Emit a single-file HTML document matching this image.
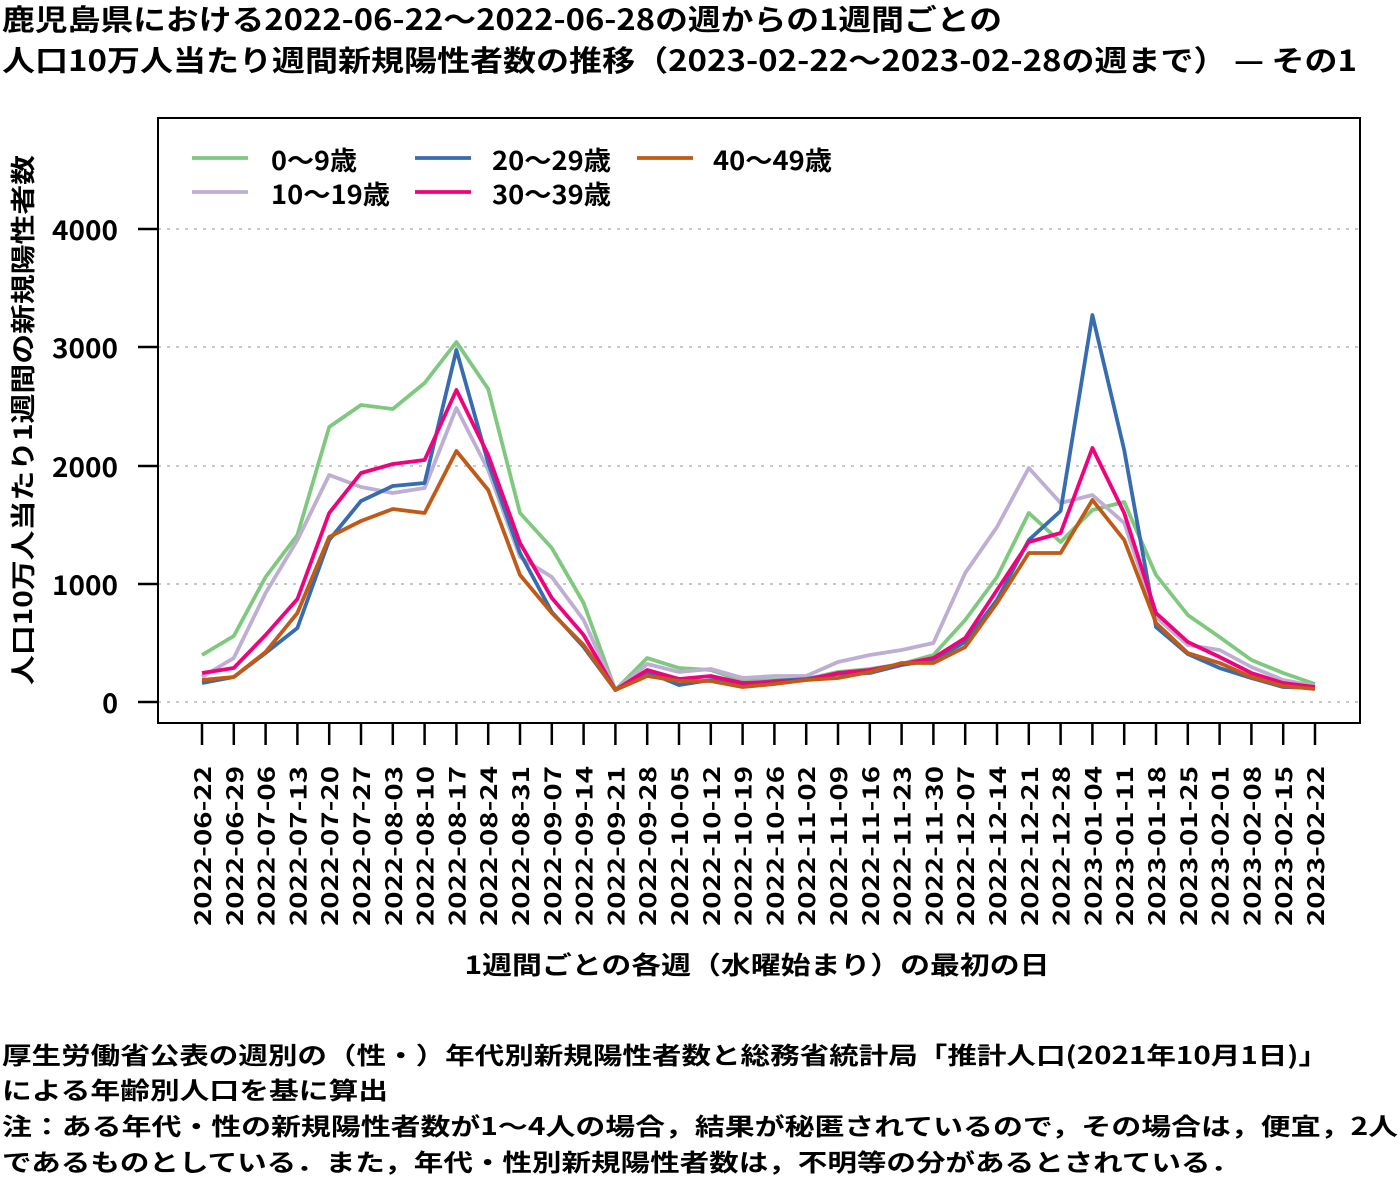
<!DOCTYPE html>
<html><head><meta charset="utf-8"><style>
html,body{margin:0;padding:0;background:#fff;}
svg{display:block;}
text{font-family:"Noto Sans CJK JP","Liberation Sans",sans-serif;font-weight:bold;fill:#000;}
</style></head><body>
<svg width="1400" height="1200" viewBox="0 0 1400 1200" xmlns="http://www.w3.org/2000/svg">
<text x="2" y="30" font-size="29" textLength="1000" lengthAdjust="spacingAndGlyphs">鹿児島県における2022-06-22～2022-06-28の週からの1週間ごとの</text>
<text x="2" y="71" font-size="29" textLength="1355" lengthAdjust="spacingAndGlyphs">人口10万人当たり週間新規陽性者数の推移（2023-02-22～2023-02-28の週まで） — その1</text>

<g stroke="#c8c8c8" stroke-width="2" stroke-dasharray="3,6">
<line x1="158" y1="702" x2="1360" y2="702"/>
<line x1="158" y1="584" x2="1360" y2="584"/>
<line x1="158" y1="466" x2="1360" y2="466"/>
<line x1="158" y1="347" x2="1360" y2="347"/>
<line x1="158" y1="229" x2="1360" y2="229"/>
</g>
<rect x="158" y="118" width="1202" height="605" fill="none" stroke="#000" stroke-width="2"/>
<g stroke="#000" stroke-width="2.5">
<line x1="138" y1="702" x2="158" y2="702"/>
<line x1="138" y1="584" x2="158" y2="584"/>
<line x1="138" y1="466" x2="158" y2="466"/>
<line x1="138" y1="347" x2="158" y2="347"/>
<line x1="138" y1="229" x2="158" y2="229"/>
</g>
<g font-size="27" text-anchor="end">
<text x="118" y="713">0</text>
<text x="118" y="595" textLength="66" lengthAdjust="spacingAndGlyphs">1000</text>
<text x="118" y="477" textLength="66" lengthAdjust="spacingAndGlyphs">2000</text>
<text x="118" y="358" textLength="66" lengthAdjust="spacingAndGlyphs">3000</text>
<text x="118" y="240" textLength="66" lengthAdjust="spacingAndGlyphs">4000</text>
</g>
<text transform="translate(32,420) rotate(-90)" font-size="25" text-anchor="middle" textLength="530" lengthAdjust="spacingAndGlyphs">人口10万人当たり1週間の新規陽性者数</text>

<g id="xt" stroke="#000" stroke-width="2.5"></g>
<g id="xl" font-size="23"></g>
<text x="757" y="974" font-size="25" text-anchor="middle" textLength="585" lengthAdjust="spacingAndGlyphs">1週間ごとの各週（水曜始まり）の最初の日</text>

<g fill="none" stroke-width="3.8" stroke-linejoin="round" id="series"></g>

<g stroke-width="3.8">
<line x1="192" y1="158" x2="248" y2="158" stroke="#7fc97f"/>
<line x1="192" y1="192" x2="248" y2="192" stroke="#beaed4"/>
<line x1="415" y1="158" x2="471" y2="158" stroke="#386cb0"/>
<line x1="415" y1="192" x2="471" y2="192" stroke="#f0027f"/>
<line x1="637" y1="158" x2="693" y2="158" stroke="#bf5b17"/>
</g>
<g font-size="26">
<text x="271" y="170" textLength="86" lengthAdjust="spacingAndGlyphs">0～9歳</text>
<text x="271" y="204" textLength="119" lengthAdjust="spacingAndGlyphs">10～19歳</text>
<text x="492" y="170" textLength="119" lengthAdjust="spacingAndGlyphs">20～29歳</text>
<text x="492" y="204" textLength="119" lengthAdjust="spacingAndGlyphs">30～39歳</text>
<text x="713" y="170" textLength="119" lengthAdjust="spacingAndGlyphs">40～49歳</text>
</g>

<g font-size="24">
<text x="2" y="1064" textLength="1326" lengthAdjust="spacingAndGlyphs">厚生労働省公表の週別の（性・）年代別新規陽性者数と総務省統計局「推計人口(2021年10月1日)」</text>
<text x="2" y="1099" textLength="386" lengthAdjust="spacingAndGlyphs">による年齢別人口を基に算出</text>
<text x="2" y="1135" textLength="1396" lengthAdjust="spacingAndGlyphs">注：ある年代・性の新規陽性者数が1～4人の場合，結果が秘匿されているので，その場合は，便宜，2人</text>
<text x="2" y="1171" textLength="1238" lengthAdjust="spacingAndGlyphs">であるものとしている．また，年代・性別新規陽性者数は，不明等の分があるとされている．</text>
</g>
</svg>
<script>
var ns="http://www.w3.org/2000/svg";
var dates=["2022-06-22","2022-06-29","2022-07-06","2022-07-13","2022-07-20","2022-07-27","2022-08-03","2022-08-10","2022-08-17","2022-08-24","2022-08-31","2022-09-07","2022-09-14","2022-09-21","2022-09-28","2022-10-05","2022-10-12","2022-10-19","2022-10-26","2022-11-02","2022-11-09","2022-11-16","2022-11-23","2022-11-30","2022-12-07","2022-12-14","2022-12-21","2022-12-28","2023-01-04","2023-01-11","2023-01-18","2023-01-25","2023-02-01","2023-02-08","2023-02-15","2023-02-22"];
function X(i){return 202+i*(1113/35);}
var xt=document.getElementById("xt"),xl=document.getElementById("xl");
dates.forEach(function(d,i){
 var l=document.createElementNS(ns,"line");l.setAttribute("x1",X(i));l.setAttribute("x2",X(i));l.setAttribute("y1",723);l.setAttribute("y2",745);xt.appendChild(l);
 var t=document.createElementNS(ns,"text");t.setAttribute("transform","translate("+(X(i)+9)+",926) rotate(-90)");t.setAttribute("textLength","160");t.setAttribute("lengthAdjust","spacingAndGlyphs");t.textContent=d;xl.appendChild(t);
});
var S=[
["#7fc97f",[655,636,577,535,427,405,409,383,342,389,513,548,603,690,658,668,670,681,680,679,672,669,664,655,620,577,513,542,510,502,575,615,637,660,673,684]],
["#beaed4",[677,658,593,540,475,487,493,488,408,470,557,577,620,690,664,672,669,678,676,676,662,655,650,643,573,527,468,503,495,523,617,645,650,667,680,686]],
["#386cb0",[683,677,653,628,540,501,486,483,350,463,553,612,647,690,672,685,680,684,681,679,674,673,665,660,642,600,540,511,315,450,627,654,668,678,687,688]],
["#f0027f",[673,668,635,599,513,473,464,460,390,455,543,598,635,690,670,679,676,683,682,680,673,670,664,658,638,590,542,533,448,513,613,642,657,673,683,687]],
["#bf5b17",[680,677,652,613,537,521,509,513,451,490,575,613,645,690,676,681,681,687,684,680,678,672,663,663,647,603,553,553,500,540,623,653,663,677,686,689]]
];
var g=document.getElementById("series");
S.forEach(function(s){
 var p=document.createElementNS(ns,"polyline");
 p.setAttribute("points",s[1].map(function(y,i){return X(i).toFixed(1)+","+y;}).join(" "));
 p.setAttribute("stroke",s[0]);g.appendChild(p);
});
</script>
</body></html>
